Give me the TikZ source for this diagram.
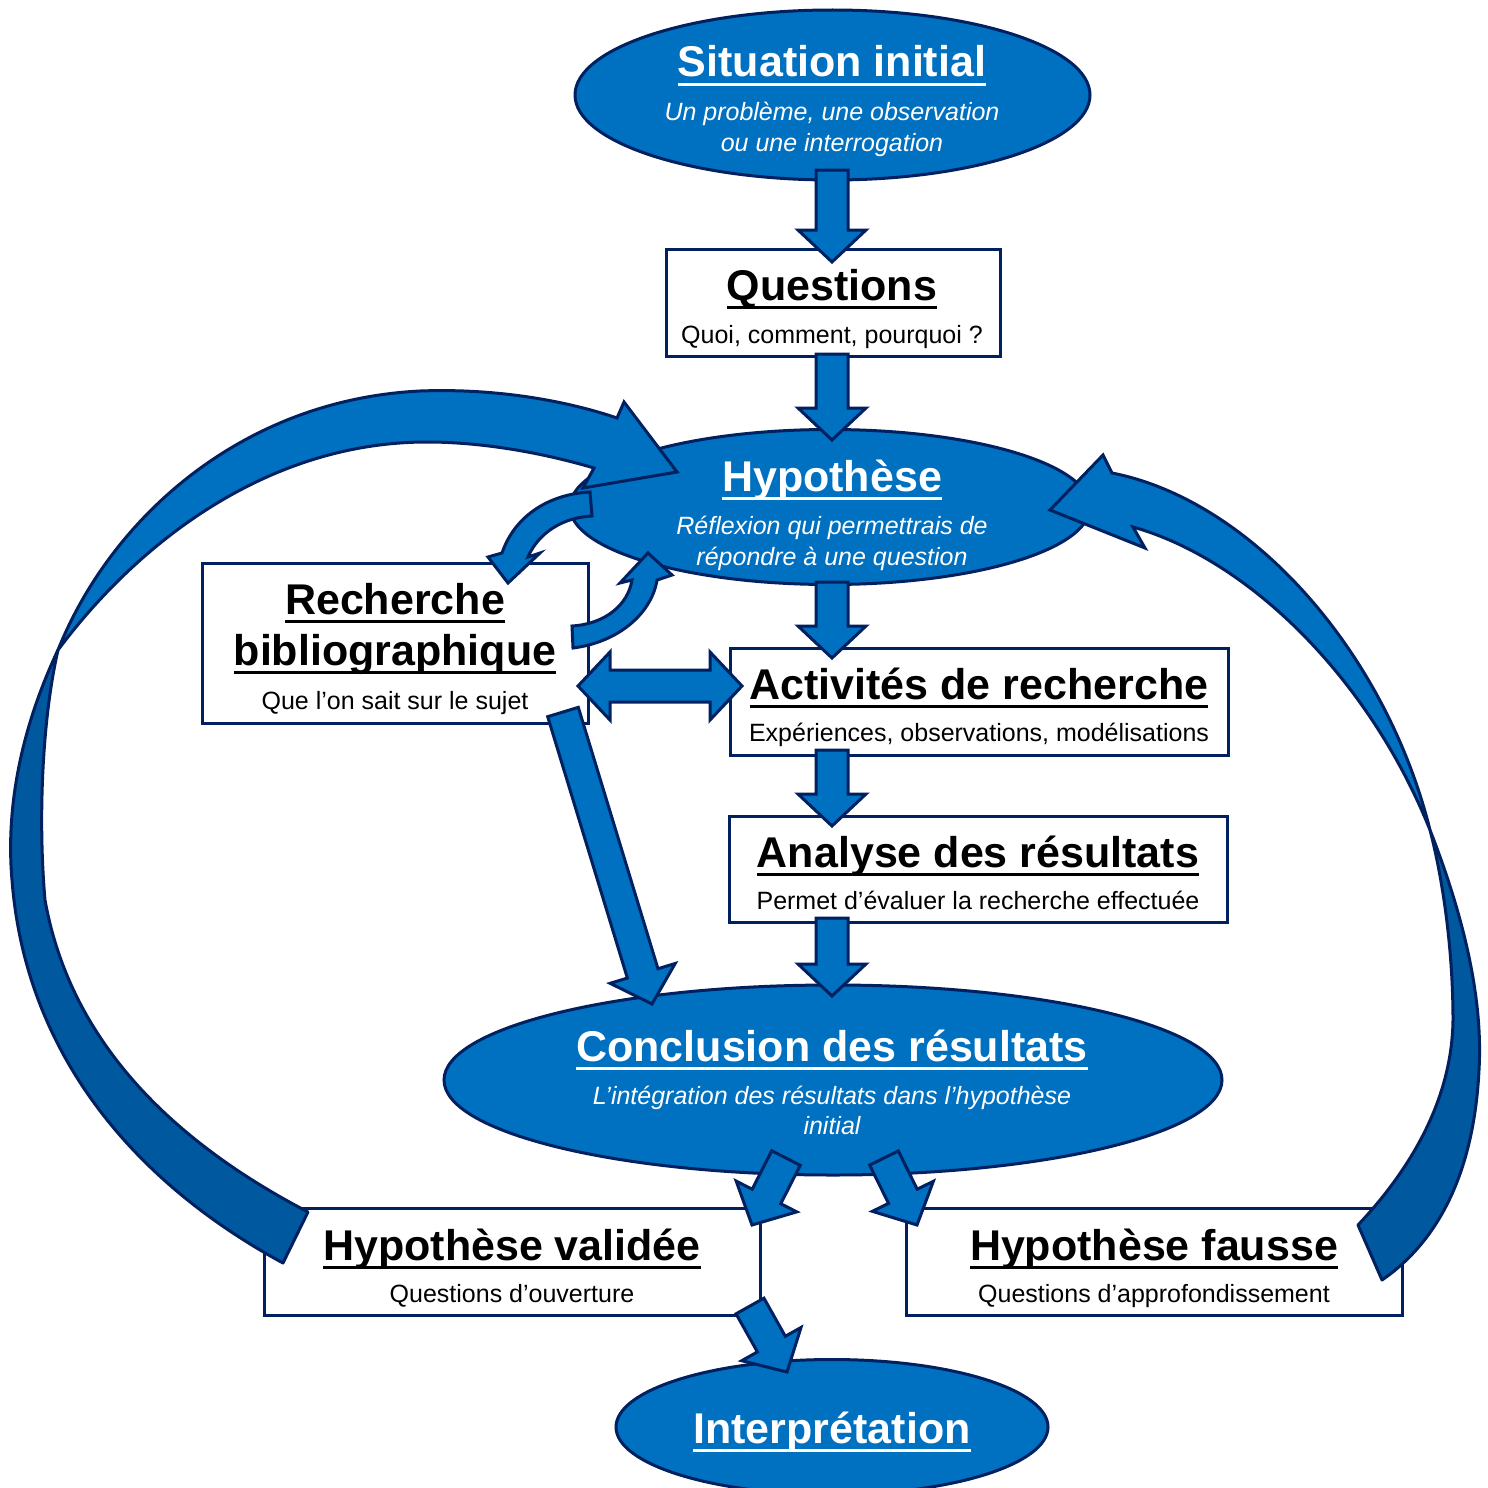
\documentclass[tikz,border=0pt]{standalone}
\usepackage{fontspec}
\setmainfont{Liberation Sans}
\usetikzlibrary{shapes.geometric,calc}
\definecolor{bfill}{RGB}{0,112,192}
\definecolor{bdark}{RGB}{0,88,158}
\definecolor{navy}{RGB}{0,32,96}
\newcommand\tfont{\fontsize{43}{50}\selectfont\bfseries}
\newcommand\sfont{\fontsize{25}{31}\selectfont}
\newcommand\myul[1]{\leavevmode\sbox0{#1}\rlap{\rule[-0.22em]{\wd0}{0.07em}}\usebox0}
\newcommand\blockarrow[2]{%
  \coordinate (hb) at ($(#2)!32pt!(#1)$);
  \filldraw[arr] ($(#1)!16pt!90:(#2)$) -- ($(hb)!16pt!90:(#2)$) -- ($(hb)!34pt!90:(#2)$) -- (#2)
    -- ($(hb)!34pt!-90:(#2)$) -- ($(hb)!16pt!-90:(#2)$) -- ($(#1)!16pt!-90:(#2)$) -- cycle;}
\begin{document}
\begin{tikzpicture}[x=1pt,y=-1pt,
  arr/.style={fill=bfill,draw=navy,line width=3pt,line join=miter},
  arrd/.style={fill=bdark,draw=navy,line width=3pt,line join=round},
  ell/.style={ellipse,fill=bfill,draw=navy,line width=3pt,inner sep=0pt},
  boxn/.style={rectangle,fill=white,draw=navy,line width=3pt,inner sep=0pt},
  titletext/.style={anchor=base,inner sep=0pt,font=\tfont},
  subtext/.style={anchor=base,inner sep=0pt,font=\sfont},
  wt/.style={text=white}]
\useasboundingbox (0,0) rectangle (1488,1488);
\fill[white] (0,0) rectangle (1488,1488);

% shapes
\node[ell,minimum width=515,minimum height=170] (sit) at (832.5,95) {};
\node[boxn,minimum width=334,minimum height=107] (q) at (833,302.5) {};
\node[ell,minimum width=520,minimum height=155] (hyp) at (830,507) {};
\node[boxn,minimum width=386,minimum height=160] (rech) at (395,643) {};
\node[boxn,minimum width=498,minimum height=107] (act) at (979,701.5) {};
\node[boxn,minimum width=498,minimum height=106] (ana) at (978,869) {};
\node[ell,minimum width=778,minimum height=190] (conc) at (833,1080) {};
\node[boxn,minimum width=496,minimum height=107] (val) at (512,1261.5) {};
\node[boxn,minimum width=496,minimum height=107] (fau) at (1154,1261.5) {};
\node[ell,minimum width=432,minimum height=135] (interp) at (832,1427) {};

% texts
\node[titletext,wt] (sitT) at (832,77) {\myul{Situation initial}};
\node[subtext,wt,font=\sfont\itshape] (sitS1) at (832,120) {Un problème, une observation};
\node[subtext,wt,font=\sfont\itshape] (sitS2) at (832,151) {ou une interrogation};
\node[titletext] (qT) at (832,300) {\myul{Questions}};
\node[subtext] (qS) at (832,343) {Quoi, comment, pourquoi ?};
\node[titletext,wt] (hypT) at (832,491) {\myul{Hypothèse}};
\node[subtext,wt,font=\sfont\itshape] (hypS1) at (832,534) {Réflexion qui permettrais de};
\node[subtext,wt,font=\sfont\itshape] (hypS2) at (832,565) {répondre à une question};
\node[titletext] (rechT1) at (395,614) {\myul{Recherche}};
\node[titletext] (rechT2) at (395,665) {\myul{bibliographique}};
\node[subtext] (rechS) at (395,709) {Que l’on sait sur le sujet};
\node[titletext] (actT) at (979,699) {\myul{Activités de recherche}};
\node[subtext] (actS) at (979,741) {Expériences, observations, modélisations};
\node[titletext] (anaT) at (978,867) {\myul{Analyse des résultats}};
\node[subtext] (anaS) at (978,909) {Permet d’évaluer la recherche effectuée};
\node[titletext,wt] (concT) at (832,1061) {\myul{Conclusion des résultats}};
\node[subtext,wt,font=\sfont\itshape] (concS1) at (832,1104) {L’intégration des résultats dans l’hypothèse};
\node[subtext,wt,font=\sfont\itshape] (concS2) at (832,1134) {initial};
\node[titletext] (valT) at (512,1260) {\myul{Hypothèse validée}};
\node[subtext] (valS) at (512,1302) {Questions d’ouverture};
\node[titletext] (fauT) at (1154,1260) {\myul{Hypothèse fausse}};
\node[subtext] (fauS) at (1154,1302) {Questions d’approfondissement};
\node[titletext,wt] (interpT) at (832,1443) {\myul{Interprétation}};

% straight block arrows
\coordinate (a1s) at (832,170); \coordinate (a1t) at (832,262);
\coordinate (a2s) at (832,354); \coordinate (a2t) at (832,440);
\coordinate (a3s) at (832,582); \coordinate (a3t) at (832,658);
\coordinate (a4s) at (832,750); \coordinate (a4t) at (832,826);
\coordinate (a5s) at (832,918); \coordinate (a5t) at (832,996);
\coordinate (a7s) at (563,712); \coordinate (a7t) at (652,1004);
\coordinate (a8s) at (786,1158); \coordinate (a8t) at (752,1225);
\coordinate (a9s) at (884,1158); \coordinate (a9t) at (917,1225);
\coordinate (a10s) at (750,1306); \coordinate (a10t) at (787,1372);
\blockarrow{a1s}{a1t}
\blockarrow{a2s}{a2t}
\blockarrow{a3s}{a3t}
\blockarrow{a4s}{a4t}
\blockarrow{a5s}{a5t}
\blockarrow{a7s}{a7t}
\blockarrow{a8s}{a8t}
\blockarrow{a9s}{a9t}
\blockarrow{a10s}{a10t}

% double arrow
\coordinate (dl) at (578,686); \coordinate (dr) at (742,686);
\filldraw[arr] (dl) -- ($(dl)+(32,-34)$) -- ($(dl)+(32,-16)$) -- ($(dr)+(-32,-16)$) -- ($(dr)+(-32,-34)$)
  -- (dr) -- ($(dr)+(-32,34)$) -- ($(dr)+(-32,16)$) -- ($(dl)+(32,16)$) -- ($(dl)+(32,34)$) -- cycle;

% small curved arrows
\filldraw[arr] (590,492) .. controls (550,494) and (515,515) .. (502,553) -- (488,557) -- (508,583)
  -- (540,553) -- (528,557) .. controls (535,540) and (555,518) .. (592,516) -- cycle;
\filldraw[arr] (573,648) .. controls (620,642) and (652,612) .. (657,580) -- (672,575) -- (648,553)
  -- (620,583) -- (632,580) .. controls (628,605) and (605,624) .. (572,626) -- cycle;

% big left arc
\filldraw[arrd] (58,650) .. controls (25,720) and (5,800) .. (12,880) .. controls (25,1050) and (130,1180) .. (283,1263)
  -- (308,1212) .. controls (170,1140) and (70,1040) .. (45,900) .. controls (38,820) and (42,720) .. (58,650) -- cycle;
\filldraw[arr] (58,650) .. controls (110,520) and (240,400) .. (420,391) .. controls (500,388) and (570,402) .. (617,418)
  -- (624,402) -- (677,472) -- (583,488) -- (594,468) .. controls (540,452) and (480,442) .. (427,442)
  .. controls (270,442) and (140,540) .. (58,650) -- cycle;

% big right arc
\filldraw[arrd] (1430,830) .. controls (1465,920) and (1483,1000) .. (1479,1070) .. controls (1474,1170) and (1440,1240) .. (1382,1280)
  -- (1358,1225) .. controls (1410,1170) and (1452,1100) .. (1453,1020) .. controls (1453,950) and (1443,880) .. (1430,830) -- cycle;
\filldraw[arr] (1430,830) .. controls (1385,650) and (1250,500) .. (1112,473) -- (1103,455) -- (1050,510) -- (1145,548)
  -- (1133,527) .. controls (1250,560) and (1370,680) .. (1430,830) -- cycle;
\end{tikzpicture}
\end{document}
